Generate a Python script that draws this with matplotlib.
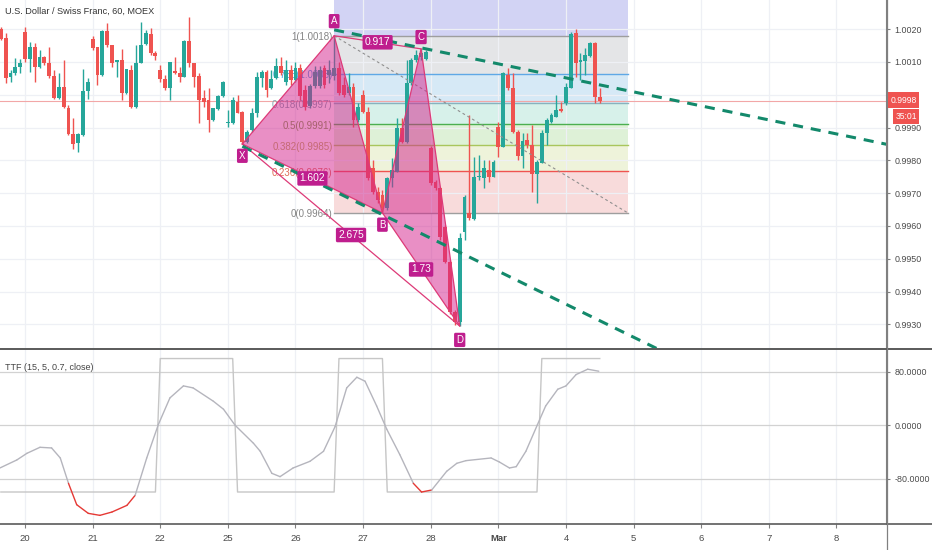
import matplotlib
matplotlib.use('Agg')
import matplotlib.pyplot as plt
import numpy as np
from matplotlib.patches import Polygon, Rectangle
from matplotlib.lines import Line2D

plt.rcParams['font.family'] = ['Liberation Sans', 'DejaVu Sans']

# ---------------- data ----------------
bar_index = list(range(-5, 120))
opens = [1.00201,1.00172,1.00053,1.00065,1.00086,1.00191,1.00108,1.00146,1.00086,1.00114,
 1.00098,1.00057,0.99989,1.00023,0.99959,0.99880,0.99854,0.99877,1.00012,1.00169,
 1.00145,1.00060,1.00195,1.00152,1.00101,1.00106,1.00004,1.00076,0.99962,1.00098,
 1.00155,1.00185,1.00127,1.00076,1.00047,1.00020,1.00073,1.00067,1.00055,1.00165,
 1.00096,1.00057,0.99989,0.99984,0.99923,0.99956,0.99996,0.99913,0.99913,0.99979,
 0.99948,0.99857,0.99893,0.99944,1.00050,1.00070,1.00020,1.00050,1.00088,1.00039,
 1.00076,1.00045,1.00082,1.00015,0.99966,1.00027,1.00027,1.00082,1.00060,1.00057,
 1.00081,1.00030,1.00004,1.00025,0.99923,0.99999,0.99948,0.99776,0.99704,0.99694,
 0.99654,0.99745,0.99765,0.99898,0.99857,1.00035,1.00106,1.00115,1.00109,0.99838,
 0.99735,0.99715,0.99598,0.99491,0.99338,0.99308,0.99582,0.99641,0.99620,0.99748,
 0.99745,0.99771,0.99750,0.99901,0.99842,1.00060,1.00020,0.99887,0.99813,0.99862,
 0.99847,0.99758,0.99791,0.99882,0.99918,0.99933,0.99956,0.99974,1.00020,1.00187,
 1.00101,1.00104,1.00118,1.00159,0.99992]
highs = [1.00207,1.00188,1.00076,1.00112,1.00109,1.00208,1.00162,1.00157,1.00137,1.00118,
 1.00147,1.00076,1.00066,1.00106,0.99969,0.99929,0.99883,1.00078,1.00050,1.00179,
 1.00147,1.00198,1.00220,1.00152,1.00106,1.00140,1.00080,1.00091,1.00152,1.00223,
 1.00198,1.00203,1.00132,1.00091,1.00060,1.00101,1.00116,1.00086,1.00167,1.00238,
 1.00097,1.00065,1.00015,1.00020,0.99960,0.99998,1.00042,0.99954,0.99994,0.99999,
 0.99950,0.99893,0.99959,1.00070,1.00076,1.00076,1.00076,1.00111,1.00116,1.00106,
 1.00091,1.00100,1.00094,1.00030,1.00033,1.00088,1.00088,1.00091,1.00106,1.00180,
 1.00100,1.00055,1.00066,1.00035,0.99975,1.00015,0.99964,0.99801,0.99720,0.99710,
 0.99750,0.99806,0.99928,0.99928,1.00106,1.00111,1.00137,1.00140,1.00138,0.99844,
 0.99740,0.99720,0.99603,0.99496,0.99344,0.99578,0.99694,0.99938,0.99811,0.99816,
 0.99801,0.99801,0.99801,0.99918,1.00070,1.00081,1.00065,0.99893,0.99882,0.99882,
 0.99908,0.99801,0.99893,0.99928,0.99944,0.99999,0.99979,1.00035,1.00192,1.00200,
 1.00127,1.00143,1.00162,1.00162,1.00020]
lows = [1.00167,1.00036,1.00040,1.00060,1.00067,1.00101,1.00070,1.00040,1.00083,1.00091,
 1.00050,0.99987,0.99987,0.99960,0.99877,0.99835,0.99826,0.99874,0.99986,1.00137,
 1.00030,1.00057,1.00147,1.00086,1.00055,0.99984,1.00002,0.99960,0.99960,1.00096,
 1.00152,1.00122,1.00106,1.00040,1.00015,0.99984,1.00063,1.00040,1.00053,1.00086,
 1.00025,0.99913,0.99964,0.99887,0.99920,0.99954,0.99993,0.99903,0.99911,0.99944,
 0.99850,0.99853,0.99887,0.99933,1.00025,0.99994,1.00018,1.00047,1.00060,1.00030,
 1.00030,1.00039,0.99984,0.99954,0.99960,1.00021,1.00021,1.00021,1.00036,1.00045,
 0.99999,0.99994,0.99999,0.99903,0.99918,0.99944,0.99740,0.99699,0.99669,0.99640,
 0.99649,0.99720,0.99764,0.99852,0.99853,1.00030,1.00101,1.00106,1.00106,0.99725,
 0.99710,0.99557,0.99486,0.99333,0.99298,0.99295,0.99557,0.99618,0.99618,0.99740,
 0.99715,0.99735,0.99749,0.99811,0.99841,1.00015,0.99882,0.99801,0.99776,0.99837,
 0.99704,0.99669,0.99791,0.99847,0.99913,0.99931,0.99948,0.99969,1.00020,1.00053,
 1.00045,1.00060,1.00116,0.99974,0.99976]
closes = [1.00170,1.00050,1.00067,1.00086,1.00096,1.00108,1.00146,1.00086,1.00114,1.00096,
 1.00057,0.99989,1.00023,0.99962,0.99880,0.99850,0.99880,1.00012,1.00040,1.00143,
 1.00060,1.00195,1.00152,1.00098,1.00106,1.00004,1.00078,0.99962,1.00098,1.00152,
 1.00187,1.00127,1.00118,1.00047,1.00020,1.00101,1.00065,1.00055,1.00165,1.00096,
 1.00055,0.99984,0.99979,0.99923,0.99959,0.99996,1.00040,0.99918,0.99984,0.99945,
 0.99857,0.99887,0.99944,1.00055,1.00070,1.00015,1.00047,1.00088,1.00065,1.00076,
 1.00045,1.00082,0.99996,0.99963,1.00027,1.00069,1.00076,1.00030,1.00076,1.00082,
 1.00004,0.99999,1.00025,0.99923,0.99964,0.99948,0.99745,0.99704,0.99679,0.99654,
 0.99745,0.99771,0.99898,0.99857,1.00035,1.00106,1.00122,1.00128,1.00131,0.99730,
 0.99715,0.99567,0.99491,0.99338,0.99308,0.99562,0.99689,0.99623,0.99750,0.99752,
 0.99776,0.99750,0.99796,0.99842,1.00065,1.00020,0.99887,0.99813,0.99860,0.99847,
 0.99758,0.99796,0.99882,0.99923,0.99938,0.99954,0.99951,1.00025,1.00185,1.00096,
 1.00106,1.00122,1.00159,0.99992,0.99980]

day_ticks = [0, 14, 28, 42, 56, 70, 84, 98, 112, 126, 140, 154, 168]
day_labels = ['20', '21', '22', '25', '26', '27', '28', 'Mar', '4', '5', '6', '7', '8']
price_ticks = [0.9930, 0.9940, 0.9950, 0.9960, 0.9970, 0.9980, 0.9990, 1.0000, 1.0010, 1.0020]
hidden_tick = 1.0000          # covered by the last-price label
last_price = 0.9998
countdown = '35:01'

# harmonic pattern points (bar index, price)
pat_names = ['X', 'A', 'B', 'C', 'D']
pat_x = [45, 64, 74, 82, 90]
pat_y = [0.99850, 1.00180, 0.99640, 1.00140, 0.99295]
ratio_ac = '0.917'
ratio_xb = '1.602'
ratio_xd = '2.675'
ratio_bd = '1.73'

# fibonacci retracement (A -> B)
fib_x = [64, 124.8]
fib_prices = [1.00180, 1.00064, 0.99974, 0.99910, 0.99846, 0.99767, 0.99640]
fib_texts = ['1(1.0018)', '0.786(1.0006)', '0.618(0.9997)', '0.5(0.9991)',
             '0.382(0.9985)', '0.236(0.9976)', '0(0.9964)']
fib_top = 1.0040
fib_line_colors = ['#9e9e9e', '#5fa8e6', '#86b3bd', '#4caf50', '#a9c65c', '#ef5350', '#9e9e9e']
fib_text_colors = ['#858585', '#4aa0e0', '#7fa3ad', '#74a24a', '#b4b45a', '#e06a55', '#858585']
fib_fill_colors = ['#d2d3f4', '#e4e5e7', '#d6e9f6', '#d7f1ea', '#def1d7', '#eef3da', '#f8dbdb']

# trend lines
trend1_x = [64, 178.4]
trend1_y = [1.00198, 0.99849]
trend2_x = [45, 131.0]
trend2_y = [0.99843, 0.99225]

# TTF indicator
ttf_x = [-5.2, -1.7, 0.4, 3.1, 5.5, 7.3, 9.0, 10.7, 13.1, 15.5, 18.0, 21.1, 22.8, 25.2, 27.6,
         30.0, 32.8, 34.8, 39.0, 41.1, 43.5, 47.3, 48.7, 51.1, 52.8, 55.5, 59.0, 61.8, 64.2,
         66.6, 68.7, 70.4, 72.8, 74.9, 77.6, 80.4, 82.1, 84.2, 87.3, 89.4, 91.3, 96.5, 98.2,
         100.3, 101.7, 103.7, 106.1, 107.8, 110.3, 112.0, 114.1, 116.5, 118.8]
ttf_v = [-64, -52, -42, -33, -34, -49, -87, -119, -132, -135, -130, -120, -105, -49, 1,
         41, 59, 56, 36, 24, 0, -27, -39, -72, -77, -64, -54, -39, -2,
         56, 72, 66, 29, -6, -44, -87, -100, -97, -69, -57, -53, -49, -55,
         -64, -62, -39, 1, 29, 54, 59, 76, 84, 81]
sig_run_start = [-5, 28, 44, 65, 75, 107]
sig_run_end = [27, 43, 64, 74, 106, 119]
sig_run_val = [-100, 100, -100, 100, -100, 100]
ttf_levels = [80, 0, -80]

# ---------------- figure ----------------
W, H = 932, 550
fig = plt.figure(figsize=(W / 100, H / 100), dpi=100)
ax = fig.add_axes([0, (H - 348) / H, 886 / W, 348 / H])
ax2 = fig.add_axes([0, (H - 524.3) / H, 886 / W, (524.3 - 349) / H])

xmin, xmax = -5.18, 178.26
GREEN, RED = '#26a69a', '#ef5350'
GRID = '#eef0f5'
TICKFS = 6.4

for a in (ax, ax2):
    a.set_xlim(xmin, xmax)
    a.set_xticks(day_ticks)
    a.grid(axis='x', color=GRID, lw=0.9, zorder=0.5)
    a.set_axisbelow(True)
    for s in ('left', 'top', 'bottom'):
        a.spines[s].set_visible(False)
    a.spines['right'].set_color('#808080')
    a.yaxis.tick_right()
    a.tick_params(axis='y', length=3, color='#808080', labelsize=TICKFS, labelcolor='#4a4a4a', pad=3)

ax.set_ylim(0.99228, 1.00289)
ax.set_yticks(price_ticks)
ax.set_yticklabels(['' if abs(p - hidden_tick) < 1e-9 else f'{p:.4f}' for p in price_ticks])
ax.grid(axis='y', color=GRID, lw=0.9, zorder=0.5)
ax.tick_params(axis='x', length=0, labelbottom=False)

# fib fills and lines
fx0, fx1 = fib_x
bounds = [fib_top] + fib_prices
for k in range(len(fib_fill_colors)):
    ax.add_patch(Rectangle((fx0, bounds[k + 1]), fx1 - fx0, bounds[k] - bounds[k + 1],
                           facecolor=fib_fill_colors[k], edgecolor='none', zorder=0.2))
for p, lc, tc, t in zip(fib_prices, fib_line_colors, fib_text_colors, fib_texts):
    ax.plot([fx0, fx1], [p, p], color=lc, lw=1.0, zorder=1)
    ax.annotate(t, (fx0, p), xytext=(-1, -1), textcoords='offset points', ha='right', va='center',
                fontsize=7.0, color=tc, zorder=2.5)
ax.plot([fx0, fx1], [fib_prices[0], fib_prices[-1]], color='#8f8f8f', lw=0.8,
        linestyle=(0, (2.5, 2.5)), zorder=3.5)

# current price line
ax.axhline(last_price, color='#f2a7a7', lw=0.8, zorder=1.2)

# candles
idx = np.array(bar_index)
o = np.array(opens); h = np.array(highs); l = np.array(lows); c = np.array(closes)
cols = [GREEN if cc >= oo else RED for oo, cc in zip(o, c)]
ax.vlines(idx, l, h, colors=cols, lw=1.0, zorder=3)
ax.bar(idx, np.maximum(np.abs(c - o), 0.00002), bottom=np.minimum(o, c), width=0.8,
       color=cols, linewidth=0, zorder=3)

# harmonic pattern
P = dict(zip(pat_names, zip(pat_x, pat_y)))
FILL = '#d4208c'
EDGE = '#dd3a78'
LAB = '#bf1e8e'
for tri in (('X', 'A', 'B'), ('B', 'C', 'D')):
    ax.add_patch(Polygon([P[n] for n in tri], closed=True, facecolor=FILL, alpha=0.5,
                         edgecolor='none', zorder=4))
    pts = [P[n] for n in tri] + [P[tri[0]]]
    ax.plot([q[0] for q in pts], [q[1] for q in pts], color=EDGE, lw=0.9, zorder=4.2)
for a_, b_ in (('A', 'C'), ('X', 'D')):
    ax.plot([P[a_][0], P[b_][0]], [P[a_][1], P[b_][1]], color=EDGE, lw=0.9, zorder=4.2)

# trend lines
for tx, ty in ((trend1_x, trend1_y), (trend2_x, trend2_y)):
    ax.plot(tx, ty, color='#13896b', lw=2.2, dashes=(3.3, 2.6), zorder=5, dash_capstyle='butt')

box = dict(boxstyle='round,pad=0.22,rounding_size=0.15', facecolor=LAB, edgecolor='none')
offs = {'X': -8.5, 'A': 10.5, 'B': -8.5, 'C': 8.5, 'D': -10}
for n in pat_names:
    ax.annotate(n, P[n], xytext=(0, offs[n]), textcoords='offset points', ha='center', va='center',
                fontsize=7.0, color='white', bbox=box, zorder=6)


def mid(a_, b_):
    return ((P[a_][0] + P[b_][0]) / 2, (P[a_][1] + P[b_][1]) / 2)


for (a_, b_), t in ((('A', 'C'), ratio_ac), (('X', 'B'), ratio_xb), (('X', 'D'), ratio_xd),
                    (('B', 'D'), ratio_bd)):
    ax.text(*mid(a_, b_), t, ha='center', va='center', fontsize=7.4, color='white', bbox=box, zorder=6)

# ---------------- TTF pane ----------------
ax2.set_ylim(-148.4, 114.3)
ax2.set_yticks(ttf_levels)
ax2.set_yticklabels([f'{v:.4f}' for v in ttf_levels])
for v in ttf_levels:
    ax2.axhline(v, color='#d2d2d2', lw=0.9, zorder=1)
sx, sy = [], []
for s0, s1, v in zip(sig_run_start, sig_run_end, sig_run_val):
    sx += [s0, s1]
    sy += [v, v]
ax2.plot(sx, sy, color='#c6c6c6', lw=1.0, zorder=2)
for k in range(len(ttf_x) - 1):
    red = ttf_v[k] < -80 and ttf_v[k + 1] < -80
    ax2.plot(ttf_x[k:k + 2], ttf_v[k:k + 2], color='#e53935' if red else '#b5b5bd',
             lw=1.0, zorder=3, solid_capstyle='round')
ax2.set_xticklabels(day_labels)
ax2.tick_params(axis='x', length=3, color='#808080', labelsize=6.8, labelcolor='#4a4a4a', pad=4)
for lbl in ax2.get_xticklabels():
    if lbl.get_text() == 'Mar':
        lbl.set_fontweight('bold')

# frame lines spanning the figure
fig.add_artist(Line2D([0, 1], [(H - 349) / H] * 2, color='#5a5a5a', lw=1.4))
fig.add_artist(Line2D([0, 1], [(H - 524.3) / H] * 2, color='#5a5a5a', lw=1.2))
fig.add_artist(Line2D([886.5 / W] * 2, [0, 1], color='#808080', lw=0.9))

# texts
fig.text(5 / W, 1 - 11 / H, 'U.S. Dollar / Swiss Franc, 60, MOEX', fontsize=6.6, color='#333333',
         va='center', ha='left')
fig.text(5 / W, 1 - 367 / H, 'TTF (15, 5, 0.7, close)', fontsize=6.5, color='#444444',
         va='center', ha='left')

# last price labels
fig.add_artist(Rectangle((888 / W, (H - 108) / H), 31 / W, 16 / H, transform=fig.transFigure,
                         facecolor='#ef5350', edgecolor='none', zorder=10))
fig.text(903.5 / W, 1 - 100 / H, f'{last_price:.4f}', fontsize=6.2, color='white', ha='center',
         va='center', zorder=11)
fig.add_artist(Rectangle((893 / W, (H - 124.3) / H), 26 / W, 15.3 / H, transform=fig.transFigure,
                         facecolor='#ef5350', edgecolor='none', zorder=10))
fig.text(906 / W, 1 - 116.5 / H, countdown, fontsize=6.2, color='white', ha='center',
         va='center', zorder=11)

fig.savefig('out.png', dpi=100)
